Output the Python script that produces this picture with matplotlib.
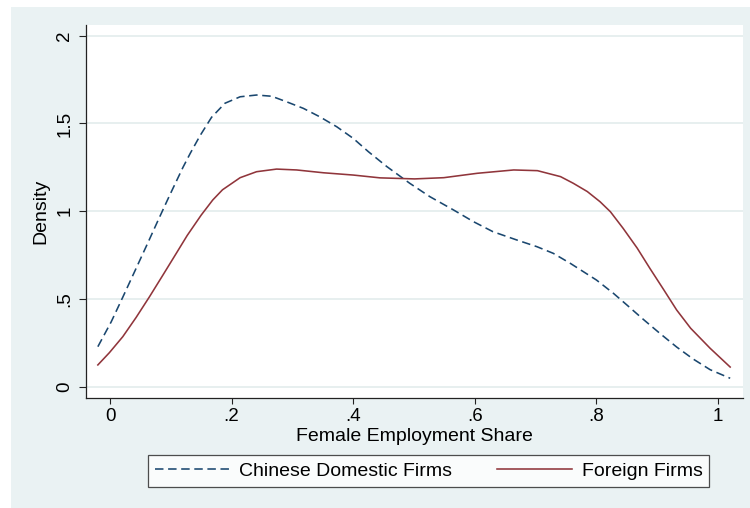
import numpy as np
import matplotlib
matplotlib.use('Agg')
import matplotlib.pyplot as plt
from matplotlib.patches import Rectangle

plt.rcParams['font.family'] = ['Liberation Sans', 'DejaVu Sans']

# density estimates
domestic_x = [-0.020, 0.002, 0.021, 0.043, 0.062, 0.078, 0.098, 0.120, 0.132, 0.148,
              0.167, 0.189, 0.214, 0.241, 0.266, 0.290, 0.318, 0.345, 0.373, 0.400,
              0.425, 0.455, 0.493, 0.526, 0.565, 0.598, 0.630, 0.669, 0.702, 0.729,
              0.757, 0.800, 0.828, 0.850, 0.877, 0.905, 0.932, 0.959, 0.987, 1.020]
domestic_y = [0.228, 0.370, 0.510, 0.675, 0.818, 0.940, 1.090, 1.250, 1.330, 1.430,
              1.535, 1.615, 1.652, 1.662, 1.655, 1.624, 1.586, 1.538, 1.481, 1.415,
              1.339, 1.255, 1.159, 1.083, 1.007, 0.940, 0.883, 0.836, 0.798, 0.760,
              0.703, 0.608, 0.532, 0.466, 0.384, 0.302, 0.226, 0.158, 0.097, 0.048]

foreign_x = [-0.020, -0.001, 0.021, 0.043, 0.065, 0.087, 0.109, 0.127, 0.150, 0.169,
             0.185, 0.214, 0.241, 0.274, 0.307, 0.351, 0.400, 0.444, 0.501, 0.549,
             0.604, 0.664, 0.703, 0.741, 0.762, 0.785, 0.806, 0.823, 0.844, 0.867,
             0.888, 0.911, 0.932, 0.955, 0.987, 1.020]
foreign_y = [0.124, 0.194, 0.285, 0.395, 0.513, 0.636, 0.760, 0.862, 0.978, 1.064,
             1.122, 1.191, 1.225, 1.240, 1.235, 1.219, 1.206, 1.190, 1.184, 1.191,
             1.216, 1.235, 1.231, 1.197, 1.159, 1.112, 1.054, 0.997, 0.902, 0.790,
             0.674, 0.551, 0.437, 0.333, 0.219, 0.112]

xticks = [0, 0.2, 0.4, 0.6, 0.8, 1]
xticklabels = ['0', '.2', '.4', '.6', '.8', '1']
yticks = [0, 0.5, 1, 1.5, 2]
yticklabels = ['0', '.5', '1', '1.5', '2']

W, H = 750, 508
fig = plt.figure(figsize=(W / 100, H / 100), dpi=100)
fig.patch.set_facecolor('white')
fig.patches.append(Rectangle((11 / W, 0), 1 - 11 / W, 1 - 7 / H, transform=fig.transFigure,
                             facecolor='#EAF2F3', edgecolor='none', zorder=-10))

ax = fig.add_axes([86 / W, 1 - 398 / H, (743 - 86) / W, (398 - 25) / H])
ax.set_zorder(1)
ax.set_facecolor('white')

navy = '#1A476F'
maroon = '#90353B'
ax.plot(domestic_x, domestic_y, color=navy, lw=1.15, linestyle=(0, (5.3, 2.9)),
        solid_joinstyle='round', label='Chinese Domestic Firms')
ax.plot(foreign_x, foreign_y, color=maroon, lw=1.15, solid_joinstyle='round',
        label='Foreign Firms')

ax.set_xlim(-0.0395, 1.0411)
ax.set_ylim(-0.0644, 2.061)
ax.set_xticks(xticks, xticklabels)
ax.set_yticks(yticks, yticklabels)
ax.grid(axis='y', color='#E3ECEC', lw=1.2)
ax.set_axisbelow(True)

for s in ['top', 'right']:
    ax.spines[s].set_visible(False)
for s in ['left', 'bottom']:
    ax.spines[s].set_color('#222222')
    ax.spines[s].set_linewidth(0.9)

ax.tick_params(axis='x', length=4.5, width=0.8, labelsize=13.5, pad=3, color='#222222')
ax.tick_params(axis='y', length=5, width=0.8, labelsize=13.5, pad=4, color='#222222',
               labelrotation=90)
for lab in ax.get_yticklabels():
    lab.set_verticalalignment('center')

ax.set_xlabel('Female Employment Share', fontsize=14, labelpad=2)
ax.set_ylabel('Density', fontsize=14, labelpad=5)

leg = fig.legend(loc='center', bbox_to_anchor=(428.5 / W, 1 - 471 / H), ncol=2,
                 fontsize=14, frameon=True, fancybox=False, edgecolor='#222222',
                 handlelength=3.85, columnspacing=2.3, handletextpad=0.5,
                 borderpad=0.35)
leg.get_frame().set_linewidth(0.9)
leg.set_zorder(2)

fig.savefig('out.png', dpi=100, facecolor=fig.get_facecolor())
